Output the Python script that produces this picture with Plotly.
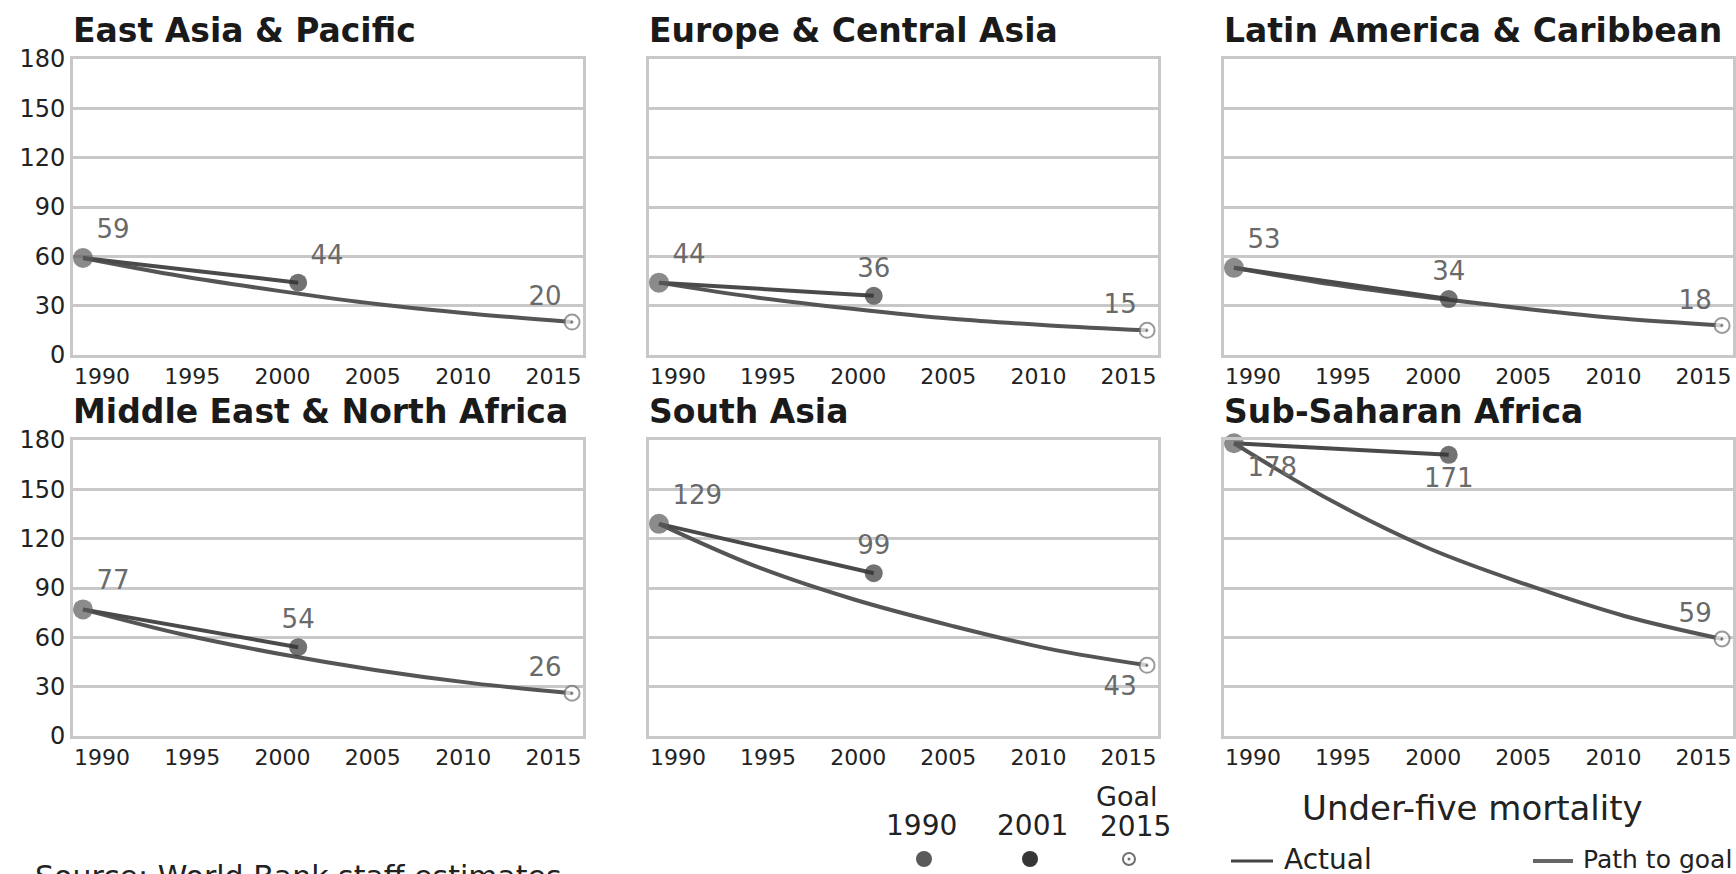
import plotly.graph_objects as go
from plotly.subplots import make_subplots

W, H = 1736, 874

# Data
regions = ["East Asia & Pacific", "Europe & Central Asia", "Latin America & Caribbean",
           "Middle East & North Africa", "South Asia", "Sub-Saharan Africa"]
actual_years = [1990, 2001]
goal_year = 2015
path_years = [1990, 1995, 2000, 2005, 2010, 2015]

u5_1990 = [59, 44, 53, 77, 129, 178]
u5_2001 = [44, 36, 34, 54, 99, 171]
u5_goal = [20, 15, 18, 26, 43, 59]
path_to_goal = [
    [59, 48, 39, 31, 25, 20],
    [44, 35, 28, 22, 18, 15],
    [53, 43, 35, 28, 22, 18],
    [77, 62, 50, 40, 32, 26],
    [129, 103, 83, 67, 53, 43],
    [178, 143, 114, 92, 73, 59],
]
x_tick_labels = ["1990", "1995", "2000", "2005", "2010", "2015"]
y_ticks = [0, 30, 60, 90, 120, 150, 180]

# label placement (1990, 2001, goal) per panel
label_pos = [
    ["top right", "top right", "top left"],
    ["top right", "top center", "top left"],
    ["top right", "top center", "top left"],
    ["top right", "top center", "top left"],
    ["top right", "top center", "bottom left"],
    ["bottom right", "bottom center", "top left"],
]

FONT = "DejaVu Sans"
GRID = "#c8c8c8"


def px(x):
    return x / W


def py(y):
    return 1 - y / H


# plot areas in pixels
cols = [(73, 583), (649, 1158), (1224, 1733)]
rows = [(59, 355), (440, 736)]
title_y = [30, 411]

fig = make_subplots(rows=2, cols=3)

# tick labels sit slightly inside the year range, as in the original
t0, t1 = 1990.97, 2014.05
tick_pos = [t0 + i * (t1 - t0) / 5 for i in range(6)]

for i, name in enumerate(regions):
    r, c = i // 3 + 1, i % 3 + 1
    # path to goal
    fig.add_trace(go.Scatter(
        x=path_years, y=path_to_goal[i], mode="lines",
        line=dict(color="#555555", width=4, shape="spline"),
        hoverinfo="skip"), row=r, col=c)
    # actual
    fig.add_trace(go.Scatter(
        x=actual_years, y=[u5_1990[i], u5_2001[i]], mode="lines",
        line=dict(color="#4a4a4a", width=4),
        hoverinfo="skip"), row=r, col=c)
    # points with labels
    fig.add_trace(go.Scatter(
        x=actual_years + [goal_year],
        y=[u5_1990[i], u5_2001[i], u5_goal[i]],
        mode="markers+text",
        text=[str(u5_1990[i]), str(u5_2001[i]), str(u5_goal[i])],
        textposition=label_pos[i],
        textfont=dict(family=FONT, size=26, color="#6a6a6a"),
        marker=dict(
            size=[20, 18, 15],
            color=["#5a5a5a", "#363636", "white"],
            symbol=["circle", "circle", "circle-dot"],
            line=dict(color=["#5a5a5a", "#363636", "#707070"], width=[0, 0, 2]),
        ),
        cliponaxis=False, hoverinfo="skip"), row=r, col=c)

    xa = "xaxis" if i == 0 else f"xaxis{i + 1}"
    ya = "yaxis" if i == 0 else f"yaxis{i + 1}"
    x0, x1 = cols[c - 1]
    y0, y1 = rows[r - 1]
    fig.layout[xa].update(
        domain=[px(x0), px(x1)], range=[1989.49, 2015.56], automargin=False,
        tickvals=tick_pos, ticktext=x_tick_labels,
        tickfont=dict(family=FONT, size=22, color="#222"),
        showgrid=False, zeroline=False,
        showline=True, mirror=True, linecolor=GRID, linewidth=3, ticks="")
    fig.layout[ya].update(
        domain=[py(y1), py(y0)], range=[0, 180], automargin=False,
        tickvals=y_ticks, showticklabels=(c == 1),
        tickfont=dict(family=FONT, size=24, color="#222"),
        showgrid=True, gridcolor=GRID, gridwidth=2.5, zeroline=False,
        showline=True, mirror=True, linecolor=GRID, linewidth=3, ticks="")
    fig.add_annotation(
        x=px(x0 - 2), y=py(title_y[r - 1]), xref="paper", yref="paper",
        xanchor="left", yanchor="middle", showarrow=False,
        text=f"<b>{name}</b>",
        font=dict(family=FONT, size=33, color="#1a1a1a"))

# legend block
ann = [
    ("1990", 921, 825, "center", 28),
    ("2001", 1032, 825, "center", 28),
    ("Goal", 1160, 796, "right", 27),
    ("2015", 1135, 826, "center", 28),
    ("Under-five mortality", 1472, 808, "center", 34),
    ("Actual", 1282, 859, "left", 28),
    ("Path to goal", 1581, 859, "left", 25),
]
for txt, x, y, anchor, size in ann:
    fig.add_annotation(x=px(x), y=py(y), xref="paper", yref="paper",
                       xanchor=anchor, yanchor="middle", showarrow=False,
                       text=txt, font=dict(family=FONT, size=size, color="#222"))

fig.add_annotation(x=px(33), y=py(857), xref="paper", yref="paper",
                   xanchor="left", yanchor="top", showarrow=False,
                   text="Source: World Bank staff estimates.",
                   font=dict(family=FONT, size=30, color="#222"))

shapes = []
for cx, col in [(924, "#5a5a5a"), (1030, "#363636")]:
    shapes.append(dict(type="circle", xref="paper", yref="paper",
                       x0=px(cx - 8), x1=px(cx + 8), y0=py(859 + 8), y1=py(859 - 8),
                       fillcolor=col, line=dict(width=0)))
shapes.append(dict(type="circle", xref="paper", yref="paper",
                   x0=px(1129 - 6), x1=px(1129 + 6), y0=py(859 + 6), y1=py(859 - 6),
                   fillcolor="white", line=dict(color="#707070", width=2)))
shapes.append(dict(type="circle", xref="paper", yref="paper",
                   x0=px(1129 - 1.5), x1=px(1129 + 1.5), y0=py(859 + 1.5), y1=py(859 - 1.5),
                   fillcolor="#707070", line=dict(width=0)))
shapes.append(dict(type="line", xref="paper", yref="paper",
                   x0=px(1231), x1=px(1273), y0=py(861), y1=py(861),
                   line=dict(color="#444", width=3)))
shapes.append(dict(type="line", xref="paper", yref="paper",
                   x0=px(1533), x1=px(1573), y0=py(861), y1=py(861),
                   line=dict(color="#666", width=4)))

fig.update_layout(
    width=W, height=H, shapes=shapes,
    margin=dict(l=0, r=0, t=0, b=0, autoexpand=False),
    paper_bgcolor="white", plot_bgcolor="white",
    showlegend=False,
)

# drop the default page margin so the figure sits at the window's corner
fig.write_html("out.html", config={"displayModeBar": False},
               post_script="document.body.style.margin='0';document.body.style.overflow='hidden';")
